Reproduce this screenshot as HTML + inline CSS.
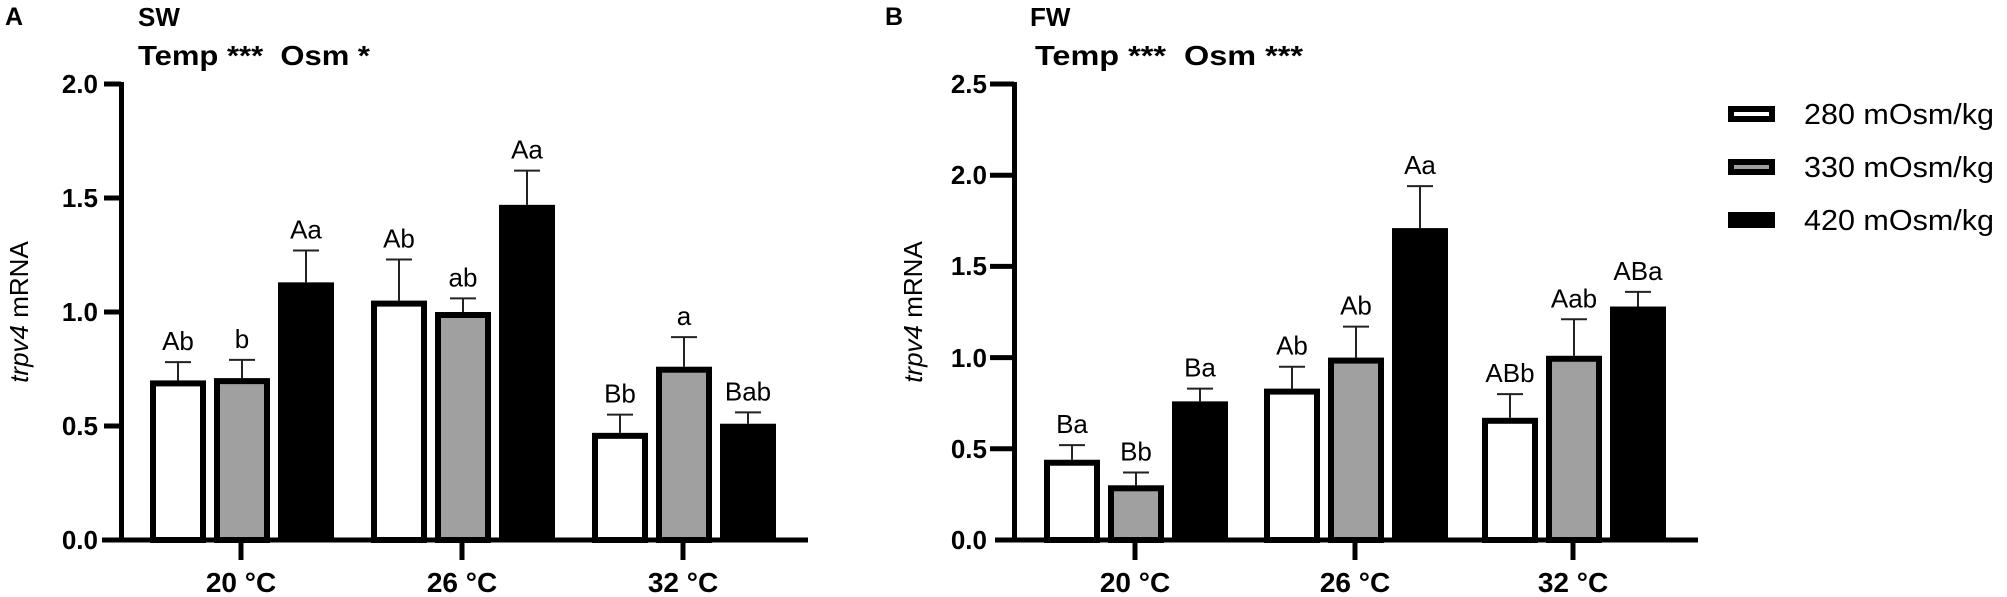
<!DOCTYPE html>
<html><head><meta charset="utf-8"><style>
html,body{margin:0;padding:0;background:#fff;}
svg{display:block;}
text{font-family:"Liberation Sans",Arial,sans-serif;fill:#000;}
.b{font-weight:bold;}
</style></head><body>
<svg width="2007" height="597" viewBox="0 0 2007 597" xmlns="http://www.w3.org/2000/svg">
<!-- Panel A -->
<text x="5" y="25" class="b" font-size="25">A</text>
<text x="138" y="26" class="b" font-size="26">SW</text>
<text x="138" y="65" class="b" font-size="28" textLength="232" lengthAdjust="spacingAndGlyphs" xml:space="preserve">Temp ***  Osm *</text>
<g stroke="#000" stroke-width="5" fill="none">
<line x1="121.5" y1="82" x2="121.5" y2="542"/>
<line x1="102" y1="540" x2="808" y2="540"/>
<line x1="104" y1="84" x2="121" y2="84"/>
<line x1="104" y1="198" x2="121" y2="198"/>
<line x1="104" y1="312" x2="121" y2="312"/>
<line x1="104" y1="426" x2="121" y2="426"/>
<line x1="241" y1="540" x2="241" y2="560"/>
<line x1="462" y1="540" x2="462" y2="560"/>
<line x1="683" y1="540" x2="683" y2="560"/>
</g>
<g class="b" font-size="26" text-anchor="end">
<text x="98" y="93">2.0</text><text x="98" y="207">1.5</text><text x="98" y="321">1.0</text><text x="98" y="435">0.5</text><text x="98" y="549">0.0</text>
</g>
<g class="b" font-size="28" text-anchor="middle">
<text x="241" y="592">20 °C</text><text x="462" y="592">26 °C</text><text x="683" y="592">32 °C</text>
</g>
<text transform="translate(28,312) rotate(-90)" font-size="26" text-anchor="middle"><tspan font-style="italic">trpv4</tspan> mRNA</text>

<!-- Panel B -->
<text x="885" y="25" class="b" font-size="25">B</text>
<text x="1030" y="26" class="b" font-size="26">FW</text>
<text x="1035" y="65" class="b" font-size="28" textLength="268" lengthAdjust="spacingAndGlyphs" xml:space="preserve">Temp ***  Osm ***</text>
<g stroke="#000" stroke-width="5" fill="none">
<line x1="1014.5" y1="82" x2="1014.5" y2="542"/>
<line x1="995" y1="540" x2="1698" y2="540"/>
<line x1="990" y1="84" x2="1014" y2="84"/>
<line x1="990" y1="175.2" x2="1014" y2="175.2"/>
<line x1="990" y1="266.4" x2="1014" y2="266.4"/>
<line x1="990" y1="357.6" x2="1014" y2="357.6"/>
<line x1="990" y1="448.8" x2="1014" y2="448.8"/>
<line x1="1135" y1="540" x2="1135" y2="560"/>
<line x1="1355" y1="540" x2="1355" y2="560"/>
<line x1="1573" y1="540" x2="1573" y2="560"/>
</g>
<g class="b" font-size="26" text-anchor="end">
<text x="987" y="93">2.5</text><text x="987" y="184">2.0</text><text x="987" y="275">1.5</text><text x="987" y="367">1.0</text><text x="987" y="458">0.5</text><text x="987" y="549">0.0</text>
</g>
<g class="b" font-size="28" text-anchor="middle">
<text x="1135" y="592">20 °C</text><text x="1355" y="592">26 °C</text><text x="1573" y="592">32 °C</text>
</g>
<text transform="translate(922,312) rotate(-90)" font-size="26" text-anchor="middle"><tspan font-style="italic">trpv4</tspan> mRNA</text>

<g id="bars"></g>

<!-- Legend -->
<rect x="1731" y="109" width="41" height="10" fill="#fff" stroke="#000" stroke-width="6"/>
<rect x="1731" y="162" width="41" height="10" fill="#a0a0a0" stroke="#000" stroke-width="6"/>
<rect x="1728" y="212" width="47" height="16" fill="#000"/>
<g font-size="29">
<text x="1804" y="124" textLength="190" lengthAdjust="spacingAndGlyphs">280 mOsm/kg</text>
<text x="1804" y="177" textLength="190" lengthAdjust="spacingAndGlyphs">330 mOsm/kg</text>
<text x="1804" y="230" textLength="190" lengthAdjust="spacingAndGlyphs">420 mOsm/kg</text>
</g>

<script>
(function(){
var ns="http://www.w3.org/2000/svg",g=document.getElementById("bars");
function el(t,a){var e=document.createElementNS(ns,t);for(var k in a)e.setAttribute(k,a[k]);g.appendChild(e);return e;}
function panel(centers,y0,scale,vals,errs,labels){
 var offs=[-91,-27,37],fills=["#fff","#a0a0a0","#000"];
 for(var i=0;i<3;i++)for(var j=0;j<3;j++){
  var v=vals[i][j],e=errs[i][j],x=centers[i]+offs[j],w=56,top=y0-v*scale,et=y0-e*scale,cx=x+w/2;
  el("line",{x1:cx,y1:et,x2:cx,y2:top,stroke:"#222","stroke-width":2});
  el("line",{x1:cx-13,y1:et,x2:cx+13,y2:et,stroke:"#222","stroke-width":2});
  if(j<2) el("rect",{x:x+3,y:top+3,width:w-6,height:y0-top-3,fill:fills[j],stroke:"#000","stroke-width":6});
  else el("rect",{x:x,y:top,width:w,height:y0-top,fill:"#000"});
  var t=el("text",{x:cx,y:et-12,"font-size":26,"text-anchor":"middle"});t.textContent=labels[i][j];
 }
}
panel([241,462,683],540,228,
 [[0.70,0.71,1.13],[1.05,1.00,1.47],[0.47,0.76,0.51]],
 [[0.78,0.79,1.27],[1.23,1.06,1.62],[0.55,0.89,0.56]],
 [["Ab","b","Aa"],["Ab","ab","Aa"],["Bb","a","Bab"]]);
panel([1135,1355,1573],540,182.4,
 [[0.44,0.30,0.76],[0.83,1.00,1.71],[0.67,1.01,1.28]],
 [[0.52,0.37,0.83],[0.95,1.17,1.94],[0.80,1.21,1.36]],
 [["Ba","Bb","Ba"],["Ab","Ab","Aa"],["ABb","Aab","ABa"]]);
})();
</script>
</svg>
</body></html>
